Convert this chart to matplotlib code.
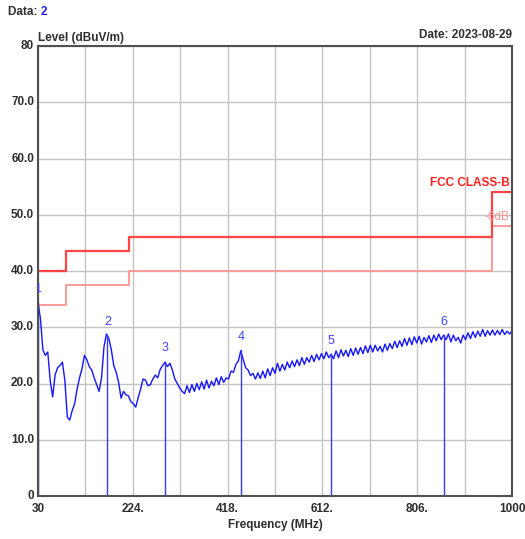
import numpy as np
from matplotlib import pyplot as plt

# measured trace, 5 MHz steps from 30 to 1000 MHz (dBuV/m)
freq = np.arange(30, 1001, 5)
level = [
    34.5, 31.5, 26.0, 25.0, 25.6, 20.5, 17.6, 21.5, 22.8, 23.2,
    23.8, 20.5, 14.0, 13.5, 15.2, 16.4, 19.0, 21.0, 22.6, 25.0,
    24.2, 23.0, 22.4, 21.0, 19.8, 18.6, 21.0, 26.5, 28.8, 28.0,
    26.0, 23.2, 22.0, 20.2, 17.4, 18.6, 18.0, 17.8, 16.8, 16.4,
    15.8, 17.5, 19.0, 20.8, 20.6, 19.6, 19.8, 20.8, 21.5, 21.0,
    22.5, 23.2, 23.8, 23.0, 23.6, 22.4, 20.8, 20.0, 19.2, 18.6,
    18.2, 19.6, 18.4, 19.8, 18.6, 20.0, 18.9, 20.3, 19.0, 20.6,
    19.2, 20.4, 19.6, 21.0, 19.8, 21.2, 20.2, 21.0, 20.8, 22.2,
    22.0, 23.4, 24.0, 25.8, 24.2, 22.8, 22.4, 21.4, 21.8, 20.8,
    21.9, 20.9, 22.2, 21.0, 22.6, 21.4, 22.8, 21.8, 23.6, 22.2,
    23.4, 22.4, 23.8, 22.8, 24.0, 23.0, 24.2, 23.2, 24.6, 23.4,
    24.6, 23.8, 25.0, 23.9, 25.2, 24.2, 25.3, 24.4, 25.6, 24.6,
    25.2, 24.4, 25.8, 24.6, 26.0, 24.9, 25.9, 24.8, 26.2, 25.0,
    26.3, 25.2, 26.4, 25.3, 26.7, 25.5, 26.8, 25.6, 26.8, 25.8,
    26.6, 25.6, 27.0, 25.9, 27.1, 26.2, 27.5, 26.4, 27.6, 26.6,
    28.0, 26.8, 28.1, 26.9, 28.3, 27.2, 28.4, 27.0, 28.2, 27.4,
    28.5, 27.3, 28.6, 27.6, 28.8, 27.8, 28.6, 27.8, 28.8, 27.4,
    28.6, 27.6, 28.2, 27.2, 28.6, 27.8, 29.0, 28.0, 29.2, 28.2,
    29.3, 28.4, 29.6, 28.4, 29.4, 28.6, 29.5, 28.6, 29.4, 28.7,
    29.6, 28.7, 29.3, 28.8, 29.4,
]

# FCC class B limit and -6 dB margin (step lines)
limit_freq = [30, 88, 88, 216, 216, 960, 960, 1000]
limit_level = [40, 40, 43.5, 43.5, 46, 46, 54, 54]
margin_level = [34, 34, 37.5, 37.5, 40, 40, 48, 48]

# markers
marker_freq = [30, 172, 289, 446, 630, 861]
marker_level = [34.5, 28.6, 23.9, 25.9, 25.2, 28.6]
marker_label = ["1", "2", "3", "4", "5", "6"]

x_ticks = [30, 224, 418, 612, 806, 1000]
x_tick_labels = ["30", "224.", "418.", "612.", "806.", "1000"]
y_ticks = [0, 10, 20, 30, 40, 50, 60, 70, 80]
y_tick_labels = ["0", "10.0", "20.0", "30.0", "40.0", "50.0", "60.0", "70.0", "80"]

font = ["Liberation Sans", "DejaVu Sans"]
txt = "#2e2e2e"

fig = plt.figure(figsize=(5.25, 5.39), dpi=100)
ax = fig.add_axes([38 / 525, 1 - 496 / 539, 474 / 525, 450 / 539])

ax.set_xlim(30, 1000)
ax.set_ylim(0, 80)
ax.set_xticks(np.linspace(30, 1000, 11))
ax.set_xticklabels([])
ax.set_yticks(y_ticks)
ax.set_yticklabels([])
ax.grid(True, color="#c4c4c4", linewidth=1.0)
ax.tick_params(length=0)
for s in ax.spines.values():
    s.set_color("#505050")
    s.set_linewidth(1.5)

for xt, lab in zip(x_ticks, x_tick_labels):
    ax.text(xt, -1.2, lab, ha="center", va="top", fontsize=8.5, color=txt,
            family=font, fontweight="bold")
for yt, lab in zip(y_ticks, y_tick_labels):
    ax.text(22, yt, lab, ha="right", va="center", fontsize=8.5, color=txt,
            family=font, fontweight="bold")

ax.plot(limit_freq, margin_level, color="#ff9a9a", linewidth=1.4)
ax.plot(limit_freq, limit_level, color="#ff4444", linewidth=1.6)

ax.plot(freq, level, color="#1515ff", linewidth=1.0)

for f, l, lab in zip(marker_freq, marker_level, marker_label):
    ax.plot([f, f], [0, l], color="#3a3aff", linewidth=1.0)
    ax.text(f, l + 1.3, lab, ha="center", va="bottom", fontsize=9,
            color="#4040ff", family=font, clip_on=True)

ax.text(995, 54.6, "FCC CLASS-B", ha="right", va="bottom", fontsize=8.5,
        color="#ff2020", family=font, fontweight="bold")
ax.text(995, 48.6, "-6dB", ha="right", va="bottom", fontsize=8.5,
        color="#ff9090", family=font)

# header / axis titles
t = fig.text(8 / 525, 1 - 12 / 539, "Data: ", ha="left", va="center",
             fontsize=8.5, color=txt, family=font, fontweight="bold")
ax.annotate("2", xy=(1, 0), xycoords=t, ha="left", va="bottom",
            fontsize=8.5, color="#2020ff", family=font, fontweight="bold",
            annotation_clip=False)
fig.text(38 / 525, 1 - 38 / 539, "Level (dBuV/m)", ha="left", va="center",
         fontsize=8.5, color=txt, family=font, fontweight="bold")
fig.text(512 / 525, 1 - 35 / 539, "Date: 2023-08-29", ha="right", va="center",
         fontsize=8.5, color=txt, family=font, fontweight="bold")
fig.text(275 / 525, 1 - 525 / 539, "Frequency (MHz)", ha="center", va="center",
         fontsize=8.5, color=txt, family=font, fontweight="bold")

plt.savefig("out.png", dpi=100)
plt.close()
